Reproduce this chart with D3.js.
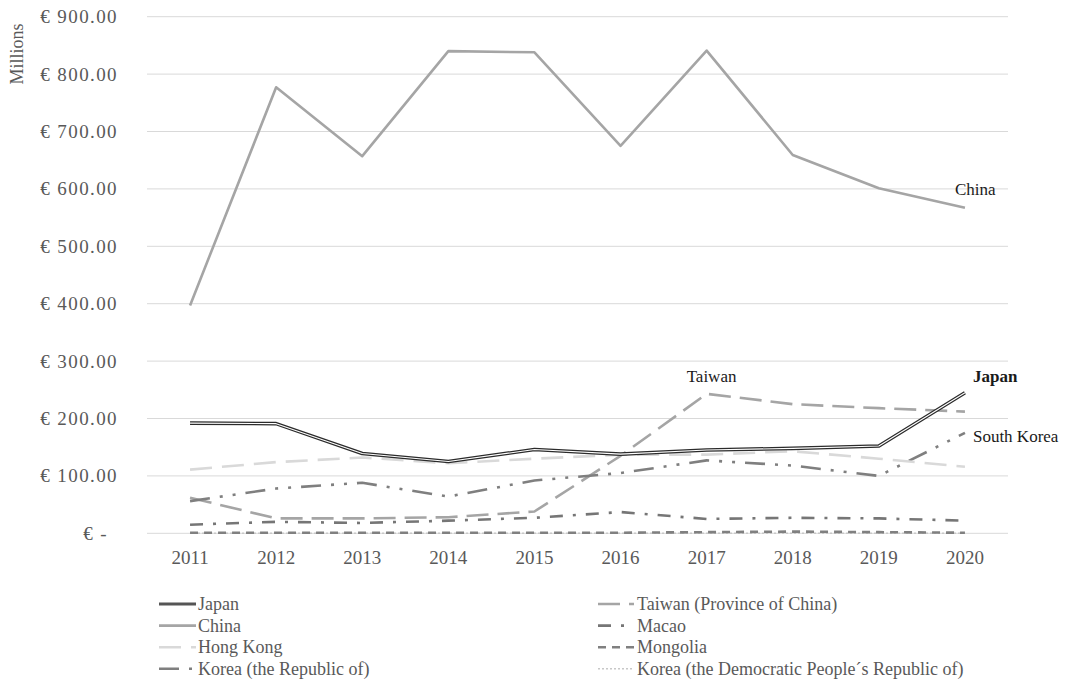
<!DOCTYPE html>
<html>
<head>
<meta charset="utf-8">
<script src="https://cdn.jsdelivr.net/npm/d3@7"></script>
<style>
  html, body { margin: 0; padding: 0; background: #fff; }
  svg { display: block; font-family: "Liberation Serif", "Tinos", "Times New Roman", serif; }
</style>
</head>
<body>
<svg id="chart" width="1072" height="687"></svg>
<script>
// Years on the category axis
const years = ["2011","2012","2013","2014","2015","2016","2017","2018","2019","2020"];

// Imports by partner, € millions
const japan     = [192, 191, 139, 125, 146, 138, 145, 148, 152, 245];
const china     = [397, 777, 657, 840, 838, 675, 841, 659, 601, 567];
const hongKong  = [111, 124, 132, 122, 130, 137, 137, 143, 130, 116];
const koreaRep  = [ 56,  78,  88,  64,  92, 105, 127, 118, 100, 175];
const taiwan    = [ 62,  26,  26,  28,  38, 135, 243, 225, 218, 212];
const macao     = [ 15,  20,  18,  22,  27,  37,  25,  27,  26,  22];
const mongolia  = [  1,   1,   1,   1,   1,   1,   2,   3,   2,   1];
const koreaDPR  = [  0,   0,   0,   0,   0,   0,   0,   0,   0,   0];

// Value axis ticks
const yTicks = [0, 100, 200, 300, 400, 500, 600, 700, 800, 900];

const series = [
  { name: "Japan", values: japan, color: "#2b2b2b", width: 3.6, dash: null, double: true },
  { name: "China", values: china, color: "#a5a5a5", width: 2.6, dash: null },
  { name: "Hong Kong", values: hongKong, color: "#d9d9d9", width: 2.6, dash: "22,10" },
  { name: "Korea (the Republic of)", values: koreaRep, color: "#7f7f7f", width: 2.6, dash: "20,10,3,10,3,10" },
  { name: "Taiwan (Province of China)", values: taiwan, color: "#a5a5a5", width: 2.6, dash: "22,9" },
  { name: "Macao", values: macao, color: "#767676", width: 2.6, dash: "13,10,3,10" },
  { name: "Mongolia", values: mongolia, color: "#808080", width: 2.6, dash: "8,6" },
  { name: "Korea (the Democratic People\u00b4s Republic of)", values: koreaDPR, color: "#c8c8c8", width: 1.4, dash: "2,2" }
];

const svg = d3.select("#chart");
const plotLeft = 147, plotRight = 1008;

const x = d3.scalePoint().domain(years).range([plotLeft, plotRight]).padding(0.5);
const y = d3.scaleLinear().domain([0, 900]).range([533.3, 16.7]);

// Horizontal gridlines
svg.append("g").selectAll("line").data(yTicks).join("line")
  .attr("x1", plotLeft).attr("x2", plotRight)
  .attr("y1", d => y(d)).attr("y2", d => y(d))
  .attr("stroke", "#d9d9d9").attr("stroke-width", 1);

// Value axis labels (accounting style)
svg.append("g").selectAll("text").data(yTicks).join("text")
  .attr("x", d => d === 0 ? 108 : 118)
  .attr("y", d => y(d) + 6.5)
  .attr("text-anchor", "end")
  .attr("font-size", 19)
  .attr("letter-spacing", 1.4)
  .attr("fill", "#595959")
  .text(d => d === 0 ? "\u20ac -" : "\u20ac " + d3.format(".2f")(d));

// Units title
svg.append("text")
  .attr("transform", "translate(23,54) rotate(-90)")
  .attr("text-anchor", "middle")
  .attr("font-size", 18)
  .attr("fill", "#595959")
  .text("Millions");

// Category labels
svg.append("g").selectAll("text").data(years).join("text")
  .attr("x", d => x(d)).attr("y", 564)
  .attr("text-anchor", "middle")
  .attr("font-size", 19)
  .attr("fill", "#595959")
  .text(d => d);

// Lines, drawn from the back: DPR Korea first, Japan last
const line = d3.line().x((d, i) => x(years[i])).y(d => y(d));
const drawOrder = series.slice().reverse();
const lines = svg.append("g");
drawOrder.forEach(s => {
  lines.append("path")
    .attr("d", line(s.values))
    .attr("fill", "none")
    .attr("stroke", s.color)
    .attr("stroke-width", s.width)
    .attr("stroke-dasharray", s.dash)
    .attr("stroke-linejoin", "round");
  if (s.double) {
    lines.append("path")
      .attr("d", line(s.values))
      .attr("fill", "none")
      .attr("stroke", "#ffffff")
      .attr("stroke-width", 1.1)
      .attr("stroke-linejoin", "round");
  }
});

// Direct labels at the line ends
const last = years.length - 1;
const notes = [
  { text: "China", x: x(years[last]) - 10, y: y(china[last]) - 13, bold: false },
  { text: "Taiwan", x: x("2017") - 20, y: y(taiwan[6]) - 12, bold: false },
  { text: "Japan", x: x(years[last]) + 8, y: y(japan[last]) - 11, bold: true },
  { text: "South Korea", x: x(years[last]) + 8, y: y(koreaRep[last]) + 9, bold: false }
];
svg.append("g").selectAll("text").data(notes).join("text")
  .attr("x", d => d.x).attr("y", d => d.y)
  .attr("font-size", 17)
  .attr("font-weight", d => d.bold ? "bold" : "normal")
  .attr("fill", "#1a1a1a")
  .text(d => d.text);

// Legend in two columns
const legendCols = [
  { sx1: 159, sx2: 196, tx: 198, items: series.slice(0, 4) },
  { sx1: 598, sx2: 634, tx: 637, items: series.slice(4) }
];
const rowY0 = 604, rowStep = 21.6;
legendCols.forEach(col => {
  const g = svg.append("g");
  col.items.forEach((s, i) => {
    const ry = rowY0 + i * rowStep;
    g.append("line")
      .attr("x1", col.sx1).attr("x2", col.sx2)
      .attr("y1", ry).attr("y2", ry)
      .attr("stroke", s.double ? "#555555" : s.color)
      .attr("stroke-width", s.double ? 3 : s.width)
      .attr("stroke-dasharray", s.dash);
    g.append("text")
      .attr("x", col.tx).attr("y", ry + 6)
      .attr("font-size", 18)
      .attr("fill", "#595959")
      .text(s.name);
  });
});
</script>
</body>
</html>
